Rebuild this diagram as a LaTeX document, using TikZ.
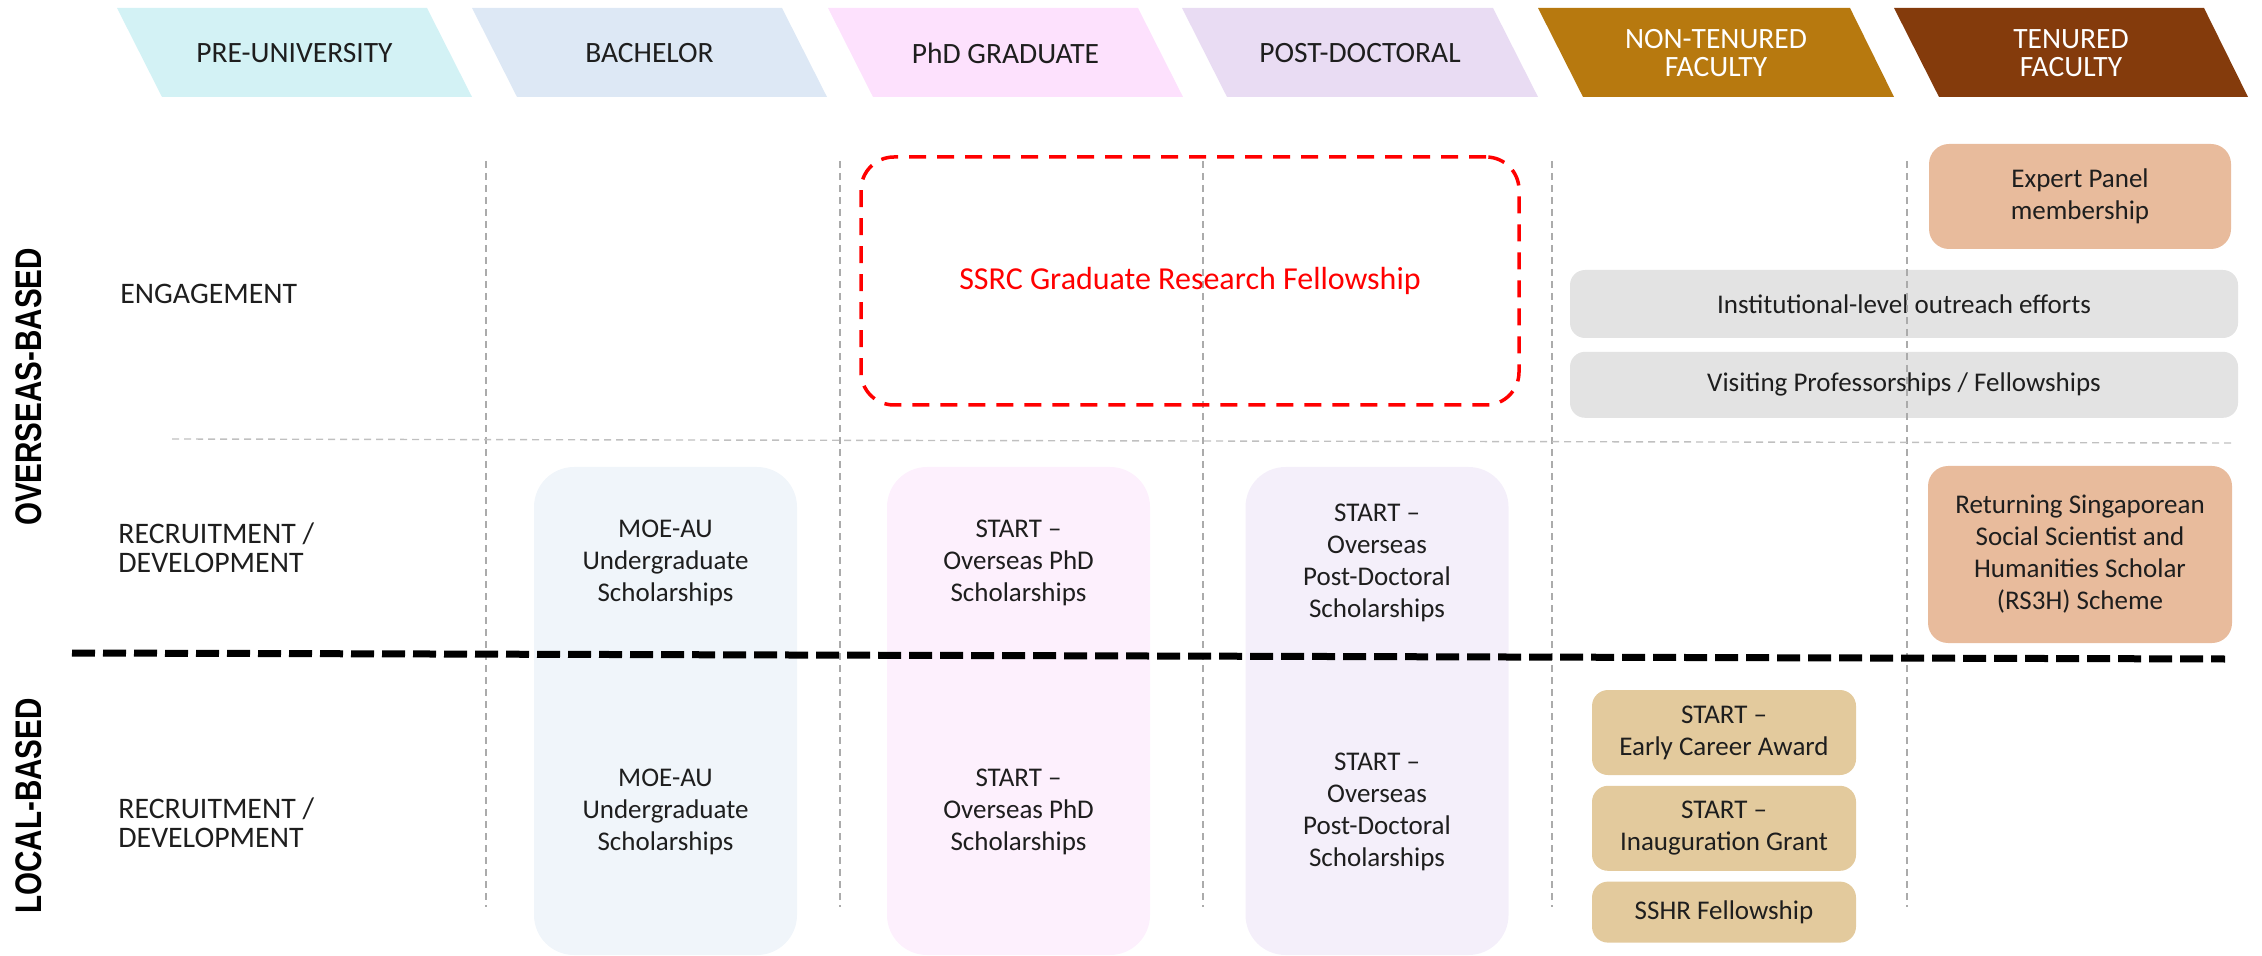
\documentclass[tikz,border=0pt]{standalone}
\usepackage{fontspec}
\setmainfont{Carlito}
\newfontfamily\sidefont{Liberation Sans}[FakeStretch=0.8]
\usetikzlibrary{positioning}

\definecolor{textdark}{HTML}{1E1E1E}
\definecolor{preuni}{HTML}{D3F2F5}
\definecolor{bachelor}{HTML}{DDE8F5}
\definecolor{phdgrad}{HTML}{FDE1FD}
\definecolor{postdoc}{HTML}{E9DCF3}
\definecolor{nontenured}{HTML}{B7790F}
\definecolor{tenured}{HTML}{843B0C}
\definecolor{peach}{HTML}{E8BB9C}
\definecolor{lightgray}{HTML}{E3E3E3}
\definecolor{tan}{HTML}{E3CA9D}
\definecolor{moefill}{HTML}{F0F5FA}
\definecolor{phdfill}{HTML}{FDF0FD}
\definecolor{postfill}{HTML}{F4EFFA}
\definecolor{gridgray}{HTML}{ABABAB}

\begin{document}
\begin{tikzpicture}[x=5pt,y=5pt]
	\tikzstyle{every node}+=[inner sep=0pt, text=textdark]
	\tikzstyle{headtext}=[font=\fontsize{14.75}{14}\selectfont, align=center]
	\tikzstyle{rowlabel}=[font=\fontsize{14.9}{14.5}\selectfont, align=left, anchor=west]
	\tikzstyle{sidelabel}=[font=\sidefont\bfseries\fontsize{18.5}{20}\selectfont, text=black, rotate=90]
	\tikzstyle{boxtext}=[font=\fontsize{13.5}{16}\selectfont, align=center]
	\tikzstyle{colbox}=[rounded corners=20pt, minimum width=131.5pt, minimum height=244pt]
	\tikzstyle{peachbox}=[boxtext, fill=peach, rounded corners=10pt]
	\tikzstyle{graybox}=[boxtext, fill=lightgray, rounded corners=7.5pt]
	\tikzstyle{tanbox}=[boxtext, fill=tan, rounded corners=8pt, minimum width=132pt]
	\tikzstyle{gridline}=[gridgray, line width=0.7pt, dash pattern=on 3.5pt off 2.5pt]
	\tikzstyle{splitline}=[black, line width=3.5pt, dash pattern=on 11.5pt off 4pt]
	\useasboundingbox (0,0) rectangle (226.2,-95.6);

	% stage headers
	\fill [preuni] (11.7,-0.8) -- (42.7,-0.8) -- (47.2,-9.7) -- (16.2,-9.7) -- cycle;
	\node [headtext] (hpre) at (29.45,-5.3) {PRE-UNIVERSITY};
	\fill [bachelor] (47.2,-0.8) -- (78.2,-0.8) -- (82.7,-9.7) -- (51.7,-9.7) -- cycle;
	\node [headtext] (hbach) at (64.95,-5.3) {BACHELOR};
	\fill [phdgrad] (82.8,-0.8) -- (113.8,-0.8) -- (118.3,-9.7) -- (87.3,-9.7) -- cycle;
	\node [headtext] (hphd) at (100.55,-5.3) {PhD GRADUATE};
	\fill [postdoc] (118.2,-0.8) -- (149.3,-0.8) -- (153.8,-9.7) -- (122.7,-9.7) -- cycle;
	\node [headtext] (hpost) at (136.0,-5.3) {POST-DOCTORAL};
	\fill [nontenured] (153.8,-0.8) -- (185.0,-0.8) -- (189.4,-9.7) -- (158.3,-9.7) -- cycle;
	\node [headtext, text=white] (hnonten) at (171.6,-5.3) {NON-TENURED\\FACULTY};
	\fill [tenured] (189.4,-0.8) -- (220.4,-0.8) -- (224.8,-9.7) -- (193.9,-9.7) -- cycle;
	\node [headtext, text=white] (hten) at (207.1,-5.3) {TENURED\\FACULTY};

	% side and row labels
	\node [sidelabel] (overseas) at (2.9,-38.7) {OVERSEAS-BASED};
	\node [sidelabel] (local) at (2.9,-80.6) {LOCAL-BASED};
	\node [rowlabel] (engage) at (12.0,-29.4) {ENGAGEMENT};
	\node [rowlabel] (recruitos) at (11.8,-54.8) {RECRUITMENT /\\DEVELOPMENT};
	\node [rowlabel] (recruitloc) at (11.8,-82.3) {RECRUITMENT /\\DEVELOPMENT};

	% scholarship columns
	\node [colbox, fill=moefill] (moecol) at (66.55,-71.1) {};
	\node [colbox, fill=phdfill] (phdcol) at (101.85,-71.1) {};
	\node [colbox, fill=postfill] (postcol) at (137.7,-71.1) {};
	\node [boxtext] (moeos) at (66.55,-56.3) {MOE-AU\\Undergraduate\\Scholarships};
	\node [boxtext] (moeloc) at (66.55,-81.2) {MOE-AU\\Undergraduate\\Scholarships};
	\node [boxtext] (phdos) at (101.85,-56.3) {START --\\Overseas PhD\\Scholarships};
	\node [boxtext] (phdloc) at (101.85,-81.2) {START --\\Overseas PhD\\Scholarships};
	\node [boxtext] (postos) at (137.7,-56.3) {START --\\Overseas\\Post-Doctoral\\Scholarships};
	\node [boxtext] (postloc) at (137.7,-81.2) {START --\\Overseas\\Post-Doctoral\\Scholarships};

	% faculty boxes
	\node [peachbox, minimum width=151pt, minimum height=52.5pt] (expert) at (208.0,-19.65) {Expert Panel\\membership};
	\node [graybox, minimum width=334pt, minimum height=34pt] (outreach) at (190.4,-30.4) {Institutional-level outreach efforts};
	\node [graybox, minimum width=334pt, minimum height=33pt, below=6.5pt of outreach] (visiting) {Visiting Professorships / Fellowships};
	\node [peachbox, minimum width=152pt, minimum height=88.5pt] (rs3h) at (208.0,-55.45) {Returning Singaporean\\Social Scientist and\\Humanities Scholar\\(RS3H) Scheme};
	\node [tanbox, minimum height=42.5pt] (early) at (172.4,-73.25) {START --\\Early Career Award};
	\node [tanbox, minimum height=42.5pt, below=5pt of early] (inaug) {START --\\Inauguration Grant};
	\node [tanbox, minimum height=30.5pt, below=5pt of inaug] (sshr) {SSHR Fellowship};

	% grid
	\draw [gridline] (48.6,-16.1) -- (48.6,-90.7);
	\draw [gridline] (84.0,-16.1) -- (84.0,-90.7);
	\draw [gridline] (120.3,-16.1) -- (120.3,-90.7);
	\draw [gridline] (155.2,-16.1) -- (155.2,-90.7);
	\draw [gridline] (190.7,-16.1) -- (190.7,-90.7);
	\draw [gridline, gridgray!75] (17.2,-43.9) -- (223.1,-44.3);

	% graduate fellowship
	\node [draw=red, line width=1.75pt, dash pattern=on 8.5pt off 5.5pt, rounded corners=16.5pt,
		minimum width=329pt, minimum height=124pt, text=red, font=\fontsize{16}{18}\selectfont]
		(ssrc) at (119.0,-28.1) {SSRC Graduate Research Fellowship};

	% overseas / local split
	\draw [splitline] (7.2,-65.3) -- (222.5,-65.9);
\end{tikzpicture}
\end{document}
